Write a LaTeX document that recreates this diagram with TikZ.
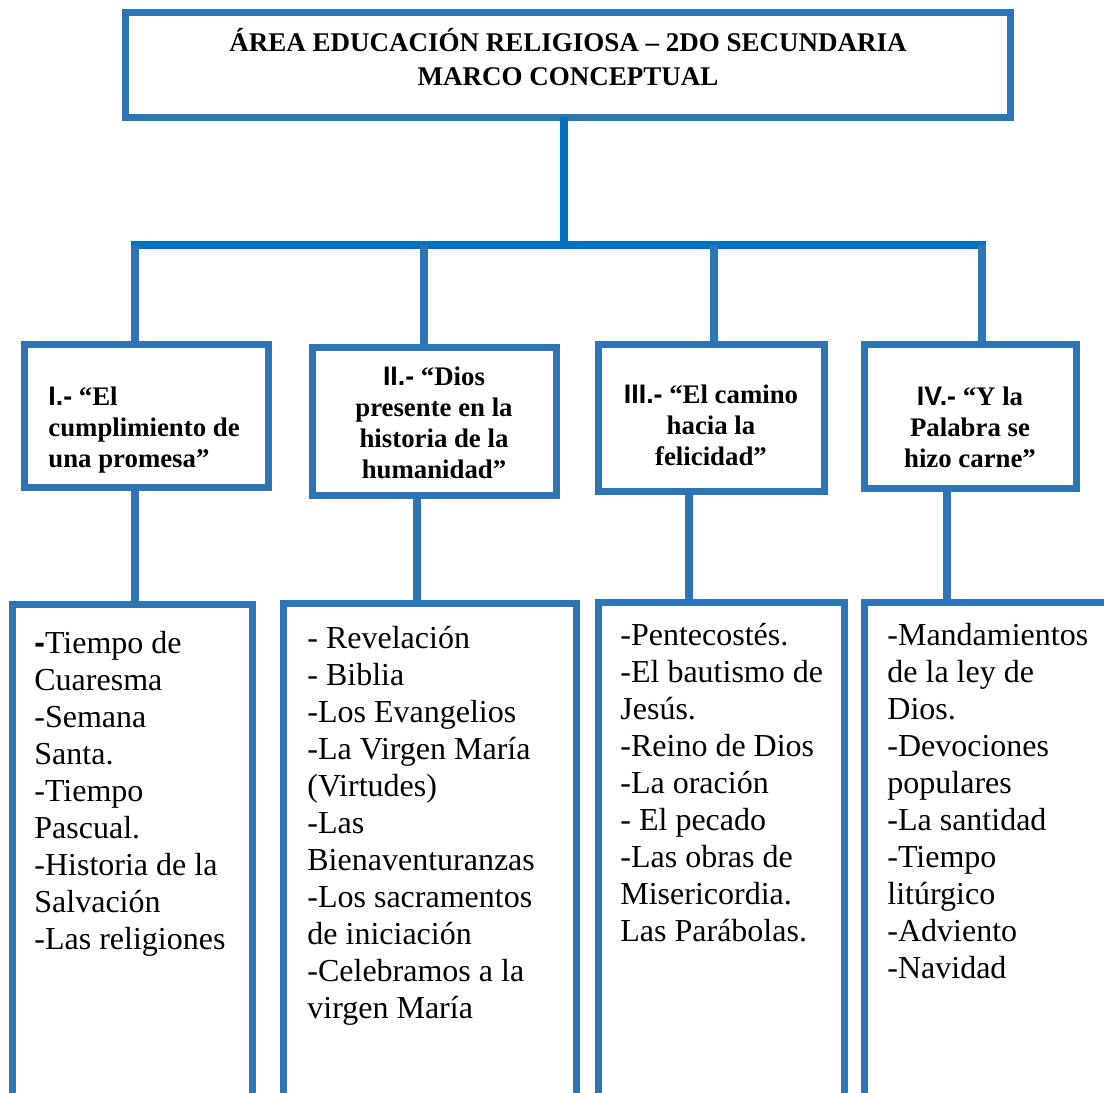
\documentclass[tikz,border=0pt]{standalone}
\usepackage{fontspec}
\setmainfont{Liberation Serif}
\newfontfamily\arialf{Liberation Sans}
\definecolor{boxblue}{HTML}{2E75B6}
\definecolor{trunkblue}{HTML}{0070C0}
\begin{document}
\begin{tikzpicture}[x=0.5pt,y=-0.5pt,
  box/.style={draw=boxblue, line width=3.5pt, fill=white, inner sep=0pt, outer sep=0pt, anchor=north west},
  trunk/.style={draw=trunkblue, line width=4pt},
  branch/.style={draw=boxblue, line width=4pt},
  listtxt/.style={inner sep=0pt, anchor=north west, align=left, font=\fontsize{16}{18.5}\selectfont},
  headtxt/.style={inner sep=0pt, anchor=north, align=center, font=\fontsize{13.4}{15.5}\selectfont\bfseries},
  titletxt/.style={inner sep=0pt, anchor=north, align=center, font=\fontsize{13.5}{17}\selectfont\bfseries},
]
\useasboundingbox (0,0) rectangle (1104,1093);
\clip (0,0) rectangle (1104,1093);

% coordinates for connector x positions
\coordinate (bar) at (564,245);
\coordinate (barL) at (135,245);
\coordinate (barR) at (982,245);
\coordinate (u1) at (135,0);
\coordinate (u2) at (424,0);
\coordinate (u3) at (714,0);
\coordinate (u4) at (982,0);
\coordinate (d1) at (135,0);
\coordinate (d2) at (417,0);
\coordinate (d3) at (689,0);
\coordinate (d4) at (947,0);

% boxes
\node[box, minimum width=442.5pt, minimum height=52.5pt] (title) at (125,12) {};
\node[box, minimum width=122pt, minimum height=71.5pt] (b1) at (24,344) {};
\node[box, minimum width=122pt, minimum height=74pt] (b2) at (312,347) {};
\node[box, minimum width=113pt, minimum height=73.5pt] (b3) at (598,344) {};
\node[box, minimum width=106pt, minimum height=72pt] (b4) at (864,344) {};
\node[box, minimum width=120pt, minimum height=253pt] (l1) at (12,604) {};
\node[box, minimum width=146.5pt, minimum height=253.5pt] (l2) at (283,603) {};
\node[box, minimum width=123pt, minimum height=254pt] (l3) at (598,602) {};
\node[box, minimum width=125.5pt, minimum height=254pt] (l4) at (864,602) {};

% connectors
\draw[trunk] (title.south -| bar) -- (bar);
\draw[trunk, line cap=rect] (barL) -- (barR);
\draw[branch] (bar -| u1) -- (b1.north -| u1);
\draw[branch] (bar -| u2) -- (b2.north -| u2);
\draw[branch] (bar -| u3) -- (b3.north -| u3);
\draw[branch] (bar -| u4) -- (b4.north -| u4);
\draw[branch] (b1.south -| d1) -- (l1.north -| d1);
\draw[branch] (b2.south -| d2) -- (l2.north -| d2);
\draw[branch] (b3.south -| d3) -- (l3.north -| d3);
\draw[branch] (b4.south -| d4) -- (l4.north -| d4);

% texts
\node[titletxt] (tt) at (568,28) {ÁREA EDUCACIÓN RELIGIOSA – 2DO SECUNDARIA\\MARCO CONCEPTUAL};
\node[headtxt, anchor=north west, align=left] (h1) at (48,386) {{\arialf\bfseries I.-} “El\\cumplimiento de\\una promesa”};
\node[headtxt] (h2) at (434,366) {{\arialf\bfseries II.-} “Dios\\presente en la\\historia de la\\humanidad”};
\node[headtxt] (h3) at (711,384) {{\arialf\bfseries III.-} “El camino\\hacia la\\felicidad”};
\node[headtxt] (h4) at (970,386) {{\arialf\bfseries IV.-} “Y la\\Palabra se\\hizo carne”};

\node[listtxt] (t1) at (34,631) {{\arialf\bfseries -}Tiempo de\\Cuaresma\\-Semana\\Santa.\\-Tiempo\\Pascual.\\-Historia de la\\Salvación\\-Las religiones};
\node[listtxt] (t2) at (307,626) {- Revelación\\- Biblia\\-Los Evangelios\\-La Virgen María\\(Virtudes)\\-Las\\Bienaventuranzas\\-Los sacramentos\\de iniciación\\-Celebramos a la\\virgen María};
\node[listtxt] (t3) at (620,623) {-Pentecostés.\\-El bautismo de\\Jesús.\\-Reino de Dios\\-La oración\\- El pecado\\-Las obras de\\Misericordia.\\Las Parábolas.};
\node[listtxt] (t4) at (887,623) {-Mandamientos\\de la ley de\\Dios.\\-Devociones\\populares\\-La santidad\\-Tiempo\\litúrgico\\-Adviento\\-Navidad};
\end{tikzpicture}
\end{document}
